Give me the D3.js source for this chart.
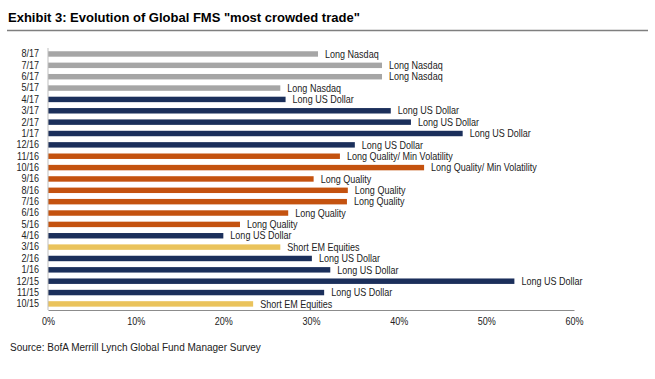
<!DOCTYPE html>
<html>
<head>
<meta charset="utf-8">
<script src="https://cdn.jsdelivr.net/npm/d3@7"></script>
<style>
  body { margin: 0; background: #fff; }
  svg text { font-family: "Liberation Sans", Arial, sans-serif; }
</style>
</head>
<body>
<svg width="655" height="379"></svg>
<script>
// Data (most recent survey first)
const months = ["8/17", "7/17", "6/17", "5/17", "4/17", "3/17", "2/17", "1/17",
    "12/16", "11/16", "10/16", "9/16", "8/16", "7/16", "6/16", "5/16", "4/16",
    "3/16", "2/16", "1/16", "12/15", "11/15", "10/15"];
const shares = [30.8, 38.1, 38.1, 26.5, 27.1, 39.1, 41.4, 47.3,
    35.0, 33.3, 42.9, 30.3, 34.2, 34.1, 27.4, 21.9, 20.0,
    26.5, 30.1, 32.2, 53.2, 31.5, 23.4];
const trades = ["Long Nasdaq", "Long Nasdaq", "Long Nasdaq", "Long Nasdaq", "Long US Dollar",
    "Long US Dollar", "Long US Dollar", "Long US Dollar", "Long US Dollar",
    "Long Quality/ Min Volatility", "Long Quality/ Min Volatility", "Long Quality",
    "Long Quality", "Long Quality", "Long Quality", "Long Quality", "Long US Dollar",
    "Short EM Equities", "Long US Dollar", "Long US Dollar", "Long US Dollar",
    "Long US Dollar", "Short EM Equities"];
const xTicks = [0, 10, 20, 30, 40, 50, 60];

const tradeColor = {
    "Long Nasdaq": "#a6a6a6",
    "Long US Dollar": "#1b2f5b",
    "Long Quality/ Min Volatility": "#c4520f",
    "Long Quality": "#c4520f",
    "Short EM Equities": "#eac35c"
};

const rows = months.map((m, i) => ({ month: m, value: shares[i], trade: trades[i] }));

const svg = d3.select("svg");
const narrow = 0.86; // squeeze text to mimic the narrow face of the original

// Title and rule
svg.append("text")
    .attr("x", 8).attr("y", 22)
    .style("font-size", "13px").style("font-weight", "bold")
    .attr("fill", "#000")
    .text('Exhibit 3: Evolution of Global FMS "most crowded trade"');

svg.append("line")
    .attr("x1", 7).attr("x2", 648).attr("y1", 30.5).attr("y2", 30.5)
    .attr("stroke", "#7f7f7f").attr("stroke-width", 1.5);

// Scales
const x = d3.scaleLinear().domain([0, 60]).range([48, 574]);
const y = d3.scaleBand().domain(months).range([48.3, 309.6]).paddingInner(0.52).paddingOuter(0.26);

// Bars
svg.append("g").selectAll("rect")
    .data(rows)
    .join("rect")
    .attr("x", x(0))
    .attr("y", d => y(d.month))
    .attr("width", d => x(d.value) - x(0))
    .attr("height", y.bandwidth())
    .attr("fill", d => tradeColor[d.trade]);

// Bar labels
svg.append("g").selectAll("text")
    .data(rows)
    .join("text")
    .attr("transform", d => `translate(${x(d.value) + 7},${y(d.month) + y.bandwidth() / 2}) scale(${narrow},1)`)
    .attr("dy", "0.35em")
    .style("font-size", "10.5px")
    .attr("fill", "#222")
    .text(d => d.trade);

// Y axis
const yAxis = svg.append("g")
    .attr("transform", `translate(${x(0)},0)`)
    .call(d3.axisLeft(y).tickSize(0).tickPadding(9));
yAxis.select(".domain").attr("stroke", "#bfbfbf").attr("d", "M0,48V310");
yAxis.selectAll(".tick text")
    .attr("x", null)
    .attr("transform", `translate(-9,0) scale(${narrow},1)`)
    .style("font-size", "10.5px").attr("fill", "#222");

// X axis
const xAxis = svg.append("g")
    .attr("transform", "translate(0,310)")
    .call(d3.axisBottom(x).tickValues(xTicks).tickFormat(d => d + "%").tickSize(0).tickPadding(8));
xAxis.select(".domain").attr("stroke", "#8c8c8c");
xAxis.selectAll(".tick text")
    .attr("transform", `scale(${narrow},1)`)
    .style("font-size", "10.5px").attr("fill", "#222");

// Source
svg.append("text")
    .attr("x", 10).attr("y", 351)
    .style("font-size", "10px")
    .attr("fill", "#222")
    .text("Source: BofA Merrill Lynch Global Fund Manager Survey");
</script>
</body>
</html>
